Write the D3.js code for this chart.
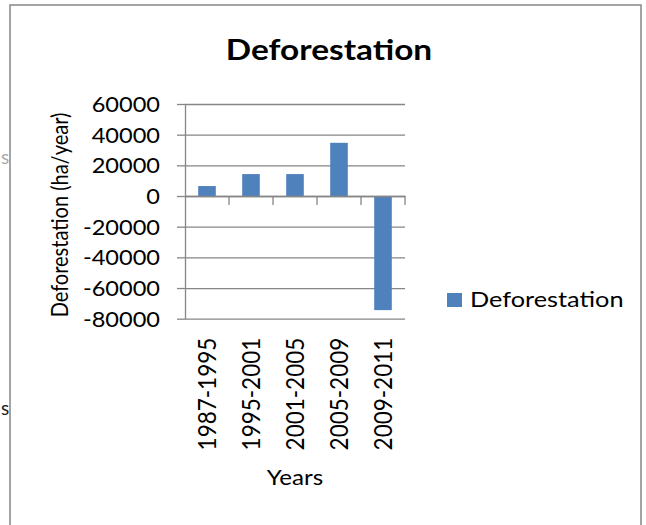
<!DOCTYPE html>
<html><head><meta charset="utf-8">
<script src="https://cdn.jsdelivr.net/npm/d3@7"></script>
<style>html,body{margin:0;padding:0;background:#fff;overflow:hidden}</style>
</head><body>
<svg id="c" width="646" height="525"></svg>
<script>
const categories = ["1987-1995", "1995-2001", "2001-2005", "2005-2009", "2009-2011"];
const values = [6500, 14300, 14300, 34700, -74400];
const yTickValues = [60000, 40000, 20000, 0, -20000, -40000, -60000, -80000];
const seriesName = "Deforestation";
const chartTitle = "Deforestation";
const xTitle = "Years";
const yTitle = "Deforestation (ha/year)";

const SX = 1.15;
const FONT = "Lato, Carlito, 'Open Sans', sans-serif";
const GRID = "#868686";
const BAR = "#4F81BD";
const plot = {left: 185, right: 405, top: 104, bottom: 318.7};

const svg = d3.select("#c").style("font-family", FONT);

// stray fragments outside chart frame
svg.append("text").attr("transform", "translate(1,164)").attr("font-size", 19).attr("fill", "#aaa").text("s");
svg.append("text").attr("transform", "translate(1,415)").attr("font-size", 19).attr("fill", "#222").text("s");

// chart frame
svg.append("rect").attr("x", 10).attr("y", 5).attr("width", 631).attr("height", 540)
  .attr("fill", "#fff").attr("stroke", GRID).attr("stroke-width", 1.5);

const x = d3.scaleBand().domain(categories).range([plot.left, plot.right]).paddingInner(0.6).paddingOuter(0.3);
const y = d3.scaleLinear().domain([-80000, 60000]).range([plot.bottom, plot.top]);

// gridlines
const grid = svg.append("g").attr("transform", `translate(${plot.left},0)`)
  .call(d3.axisLeft(y).tickValues(yTickValues).tickSize(-(plot.right - plot.left)).tickFormat(""));
grid.select(".domain").remove();
grid.selectAll("line").attr("stroke", GRID).attr("stroke-width", 1.3);

// bars
svg.append("g").selectAll("rect").data(values).join("rect")
  .attr("x", (d, i) => x(categories[i]))
  .attr("width", x.bandwidth())
  .attr("y", d => y(Math.max(0, d)))
  .attr("height", d => Math.abs(y(d) - y(0)))
  .attr("fill", BAR);

// y axis
const yAx = svg.append("g").attr("transform", `translate(${plot.left},0)`)
  .call(d3.axisLeft(y).tickValues(yTickValues).tickSize(8).tickSizeOuter(0).tickFormat(d => String(d)));
yAx.select(".domain").attr("stroke", GRID).attr("stroke-width", 1.3);
yAx.selectAll("line").attr("stroke", GRID).attr("stroke-width", 1.3);
yAx.selectAll("text")
  .attr("font-family", FONT).attr("font-size", 20.5).attr("fill", "#000")
  .attr("text-anchor", "end")
  .attr("x", -25 / SX).attr("dy", "0.36em")
  .attr("transform", `scale(${SX},1)`);

// x axis at zero
const xAx = svg.append("g").attr("transform", `translate(0,${y(0)})`)
  .call(d3.axisBottom(x).tickSize(0).tickSizeOuter(0).tickFormat(""));
xAx.select(".domain").attr("stroke", GRID).attr("stroke-width", 1.3);
const bounds = d3.range(1, categories.length + 1).map(i => plot.left + i * x.step());
xAx.selectAll(".bt").data(bounds).join("line").attr("class", "bt")
  .attr("x1", d => d).attr("x2", d => d).attr("y1", 0).attr("y2", 9)
  .attr("stroke", GRID).attr("stroke-width", 1.3);

// category labels (rotated)
const fsX = 22.5;
svg.append("g").selectAll("text").data(categories).join("text")
  .attr("transform", d => `translate(${x(d) + x.bandwidth() / 2 + 0.36 * fsX * SX},${plot.bottom + 19}) scale(${SX},1) rotate(-90)`)
  .attr("text-anchor", "end").attr("font-size", fsX).attr("fill", "#000")
  .text(d => d);

// titles
svg.append("text").attr("transform", `translate(329,60) scale(${SX},1)`)
  .attr("text-anchor", "middle").attr("font-size", 29).attr("font-weight", "bold").attr("fill", "#000")
  .text(chartTitle);
svg.append("text").attr("transform", `translate(${(plot.left + plot.right) / 2},485) scale(${SX},1)`)
  .attr("text-anchor", "middle").attr("font-size", 21).attr("fill", "#000")
  .text(xTitle);
svg.append("text").attr("transform", `translate(68,215) scale(${SX},1) rotate(-90)`)
  .attr("text-anchor", "middle").attr("font-size", 20).attr("fill", "#000")
  .text(yTitle);

// legend
svg.append("rect").attr("x", 447).attr("y", 293).attr("width", 15).attr("height", 14).attr("fill", BAR);
svg.append("text").attr("transform", `translate(470,307) scale(${SX},1)`)
  .attr("font-size", 22).attr("fill", "#000").text(seriesName);
</script>
</body></html>
